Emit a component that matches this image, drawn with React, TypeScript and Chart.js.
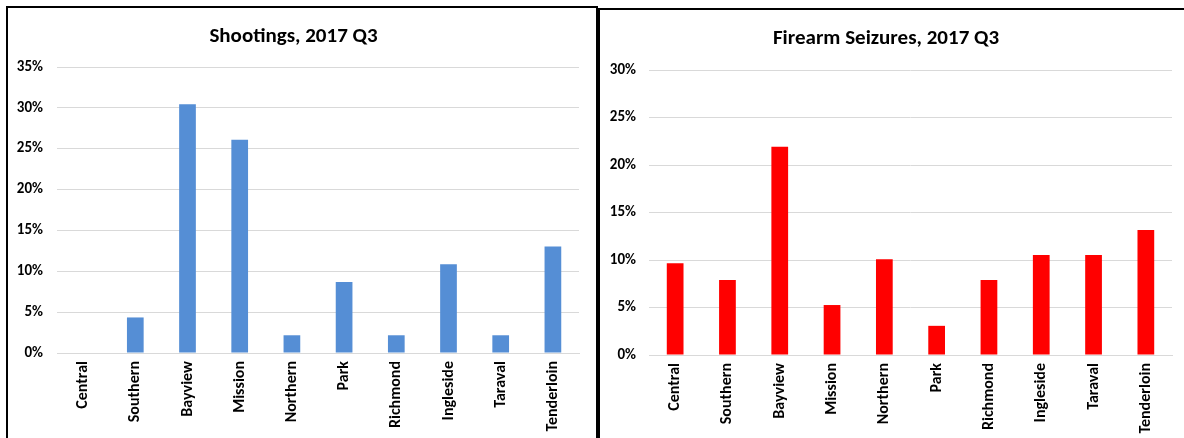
import React, { useEffect, useRef } from "react";
import { Chart, registerables } from "chart.js";

Chart.register(...registerables);

const categories = [
  "Central",
  "Southern",
  "Bayview",
  "Mission",
  "Northern",
  "Park",
  "Richmond",
  "Ingleside",
  "Taraval",
  "Tenderloin",
];

// Share of shootings by district, percent
const shootingsPct = [0, 4.35, 30.43, 26.09, 2.17, 8.7, 2.17, 10.87, 2.17, 13.04];
// Share of firearm seizures by district, percent
const seizuresPct = [9.65, 7.89, 21.93, 5.26, 10.09, 3.07, 7.89, 10.53, 10.53, 13.16];

const shootingsTitle = "Shootings, 2017 Q3";
const seizuresTitle = "Firearm Seizures, 2017 Q3";
const shootingsMax = 35;
const seizuresMax = 30;
const tickStep = 5;

const FONT = "Carlito, Lato, 'Liberation Sans', sans-serif";
const CANVAS_W = 588;
const CANVAS_H = 440;

type PanelProps = {
  title: string;
  values: number[];
  color: string;
  yMax: number;
  left: number;
  top: number;
  plotTop: number;
  plotBottom: number;
  plotLeft: number;
  plotRight: number;
  yLabelPad: number;
};

function BarPanel(p: PanelProps) {
  const ref = useRef<HTMLCanvasElement | null>(null);
  useEffect(() => {
    if (!ref.current) return;
    const titleSize = 21;
    const titleLine = titleSize * 1.2;
    const titleTop = 16;
    const titleBottom = p.plotTop - titleTop - titleLine;
    const chart = new Chart(ref.current, {
      type: "bar",
      data: {
        labels: categories,
        datasets: [
          {
            data: p.values,
            backgroundColor: p.color,
            borderWidth: 0,
            barPercentage: 0.32,
            categoryPercentage: 1,
          },
        ],
      },
      options: {
        responsive: false,
        animation: false,
        devicePixelRatio: 1,
        layout: {
          padding: { left: 0, right: CANVAS_W - p.plotRight, top: 0, bottom: 0 },
        },
        plugins: {
          legend: { display: false },
          tooltip: { enabled: false },
          title: {
            display: true,
            text: p.title,
            color: "#000000",
            font: { family: FONT, size: titleSize, weight: "bold" },
            padding: { top: titleTop, bottom: titleBottom },
          },
        },
        scales: {
          x: {
            grid: { display: false, drawTicks: false },
            border: { display: true, color: "#d9d9d9", width: 1 },
            ticks: {
              color: "#000000",
              font: { family: FONT, size: 16, weight: "bold" },
              minRotation: 90,
              maxRotation: 90,
              autoSkip: false,
              padding: 8,
            },
            afterFit: (s: any) => {
              s.height = CANVAS_H - p.plotBottom;
            },
          },
          y: {
            min: 0,
            max: p.yMax,
            grid: { color: "#d9d9d9", lineWidth: 1, drawTicks: false },
            border: { display: false },
            ticks: {
              stepSize: tickStep,
              color: "#000000",
              font: { family: FONT, size: 15, weight: "bold" },
              padding: p.yLabelPad,
              callback: (v: any) => `${v}%`,
            },
            afterFit: (s: any) => {
              s.width = p.plotLeft;
            },
          },
        },
      },
    } as any);
    return () => chart.destroy();
  }, []);
  return (
    <div
      style={{
        position: "absolute",
        left: p.left,
        top: p.top,
        width: CANVAS_W,
        height: CANVAS_H,
        border: "2px solid #000",
        background: "#fff",
      }}
    >
      <canvas
        ref={ref}
        width={CANVAS_W}
        height={CANVAS_H}
        style={{ display: "block", width: CANVAS_W, height: CANVAS_H }}
      />
    </div>
  );
}

export default function App() {
  return (
    <div
      style={{
        position: "fixed",
        left: 0,
        top: 0,
        width: 1184,
        height: 438,
        overflow: "hidden",
        background: "#fff",
      }}
    >
      <BarPanel
        title={shootingsTitle}
        values={shootingsPct}
        color="#558ED5"
        yMax={shootingsMax}
        left={6}
        top={6}
        plotTop={59}
        plotBottom={345}
        plotLeft={49}
        plotRight={571}
        yLabelPad={14}
      />
      <BarPanel
        title={seizuresTitle}
        values={seizuresPct}
        color="#FF0000"
        yMax={seizuresMax}
        left={598}
        top={8}
        plotTop={60}
        plotBottom={345}
        plotLeft={49}
        plotRight={572}
        yLabelPad={13}
      />
    </div>
  );
}
